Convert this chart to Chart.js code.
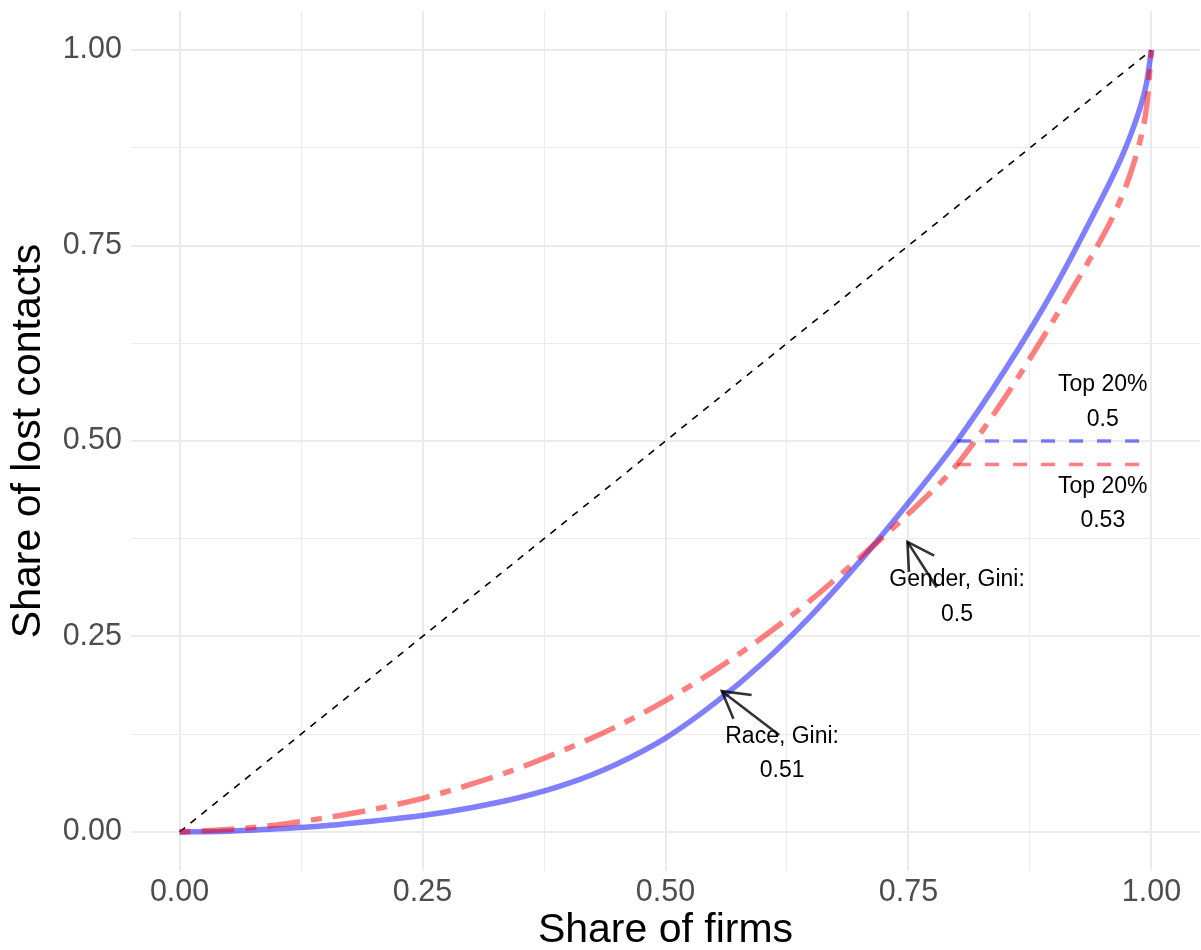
<!DOCTYPE html>
<html>
<head>
<meta charset="utf-8">
<title>Lorenz curves of lost contacts</title>
<script src="https://cdn.jsdelivr.net/npm/chart.js@4.4.1/dist/chart.umd.min.js"></script>
<style>
  html, body { margin: 0; padding: 0; background: #ffffff; }
  #wrap { width: 1201px; height: 950px; }
</style>
</head>
<body>
<div id="wrap"><canvas id="chart" width="1201" height="950"></canvas></div>
<script>
// Cumulative share of firms (x) and cumulative share of lost contacts (y)
const shareFirms  = [0, 0.05, 0.1, 0.15, 0.2, 0.25, 0.3, 0.35, 0.4, 0.45, 0.5, 0.55, 0.6, 0.65, 0.7, 0.75, 0.8, 0.85, 0.9, 0.95, 0.96, 0.97, 0.98, 0.99, 0.995, 1];
const raceShare   = [0, 0.001, 0.004, 0.008, 0.014, 0.021, 0.031, 0.044, 0.062, 0.087, 0.12, 0.164, 0.216, 0.277, 0.346, 0.421, 0.5, 0.592, 0.695, 0.813, 0.838, 0.865, 0.896, 0.933, 0.958, 1];
const genderShare = [0, 0.003, 0.009, 0.018, 0.029, 0.043, 0.061, 0.082, 0.107, 0.135, 0.168, 0.206, 0.249, 0.297, 0.351, 0.407, 0.47, 0.557, 0.656, 0.762, 0.786, 0.814, 0.848, 0.893, 0.927, 1];

// Line of perfect equality
const equalityX = [0, 1];
const equalityY = [0, 1];

// Share held by the bottom 80% of firms (the top 20% hold the rest)
const top20X      = [0.8, 0.99];
const top20Race   = [0.5, 0.5];
const top20Gender = [0.47, 0.47];

// Axis ticks: major ticks are labelled, minor ticks only carry a grid line
const tickValues = [0, 0.125, 0.25, 0.375, 0.5, 0.625, 0.75, 0.875, 1];
const majorTicks = [0, 0.25, 0.5, 0.75, 1];

// Text annotations (data coordinates, two lines each)
const noteText = [["Top 20%", "0.5"], ["Top 20%", "0.53"], ["Gender, Gini:", "0.5"], ["Race, Gini:", "0.51"]];
const noteX = [0.95, 0.95, 0.8, 0.62];
const noteY = [0.55, 0.42, 0.3, 0.1];

// Arrows pointing from the Gini labels to their curves
const arrowFromX = [0.779, 0.617];
const arrowFromY = [0.313, 0.124];
const arrowToX   = [0.749, 0.558];
const arrowToY   = [0.371, 0.180];

const FONT = "'Liberation Sans', Arial, Helvetica, sans-serif";
const BLUE = 'rgba(0, 0, 255, 0.5)';
const RED  = 'rgba(255, 0, 0, 0.5)';

const toPoints = (xs, ys) => xs.map((x, i) => ({ x: x, y: ys[i] }));
const isMajor = v => majorTicks.some(m => Math.abs(m - v) < 1e-9);

const annotations = {
  id: 'annotations',
  afterDatasetsDraw(chart) {
    const { ctx, scales: { x, y } } = chart;
    ctx.save();
    // labels
    ctx.fillStyle = '#000000';
    ctx.font = '23px ' + FONT;
    ctx.textAlign = 'center';
    ctx.textBaseline = 'middle';
    const lineGap = 34.5;
    noteText.forEach((lines, i) => {
      const px = x.getPixelForValue(noteX[i]);
      const py = y.getPixelForValue(noteY[i]);
      lines.forEach((t, k) => {
        ctx.fillText(t, px, py + (k - (lines.length - 1) / 2) * lineGap);
      });
    });
    // arrows with open heads
    ctx.strokeStyle = 'rgba(0, 0, 0, 0.8)';
    ctx.lineWidth = 2.6;
    ctx.lineCap = 'butt';
    ctx.lineJoin = 'miter';
    arrowFromX.forEach((_, i) => {
      const x0 = x.getPixelForValue(arrowFromX[i]);
      const y0 = y.getPixelForValue(arrowFromY[i]);
      const x1 = x.getPixelForValue(arrowToX[i]);
      const y1 = y.getPixelForValue(arrowToY[i]);
      ctx.beginPath();
      ctx.moveTo(x0, y0);
      ctx.lineTo(x1, y1);
      ctx.stroke();
      const ang = Math.atan2(y0 - y1, x0 - x1);
      const len = 30, spread = Math.PI / 6;
      ctx.beginPath();
      ctx.moveTo(x1 + len * Math.cos(ang - spread), y1 + len * Math.sin(ang - spread));
      ctx.lineTo(x1, y1);
      ctx.lineTo(x1 + len * Math.cos(ang + spread), y1 + len * Math.sin(ang + spread));
      ctx.stroke();
    });
    ctx.restore();
  }
};

const gridOptions = {
  color: '#EBEBEB',
  lineWidth: c => (c.tick && isMajor(c.tick.value) ? 2 : 1),
  drawTicks: false
};

const tickOptions = {
  autoSkip: false,
  maxRotation: 0,
  color: '#4D4D4D',
  font: { family: FONT, size: 30.5, lineHeight: 1.2 },
  callback: v => (isMajor(v) ? Number(v).toFixed(2) : '')
};

// Fixed axis sizes so the panel spans the same area every time
const fixAxis = (size) => (s) => {
  if (s.isHorizontal()) { s.height = size; } else { s.width = size; }
  s.paddingTop = 0; s.paddingBottom = 0; s.paddingLeft = 0; s.paddingRight = 0;
};

new Chart(document.getElementById('chart'), {
  type: 'scatter',
  data: {
    datasets: [
      { data: toPoints(top20X, top20Gender), borderColor: RED, borderWidth: 3.5, borderDash: [14, 14], order: 1 },
      { data: toPoints(top20X, top20Race), borderColor: BLUE, borderWidth: 3.5, borderDash: [14, 14], order: 2 },
      { data: toPoints(shareFirms, genderShare), borderColor: RED, borderWidth: 5.5, borderDash: [11, 11, 33, 11], cubicInterpolationMode: 'monotone', order: 3 },
      { data: toPoints(shareFirms, raceShare), borderColor: BLUE, borderWidth: 5.5, cubicInterpolationMode: 'monotone', order: 4 },
      { data: toPoints(equalityX, equalityY), borderColor: '#000000', borderWidth: 1.6, borderDash: [7, 7], order: 5 }
    ].map(d => Object.assign({ showLine: true, pointRadius: 0, pointHoverRadius: 0, fill: false, borderCapStyle: 'butt' }, d))
  },
  options: {
    responsive: false,
    animation: false,
    devicePixelRatio: 1,
    events: [],
    layout: { padding: { top: 11, right: 1, bottom: 0, left: 0 } },
    plugins: { legend: { display: false }, tooltip: { enabled: false } },
    scales: {
      x: {
        type: 'linear',
        min: -0.05,
        max: 1.05,
        border: { display: false },
        grid: gridOptions,
        ticks: Object.assign({ padding: 3.5 }, tickOptions),
        afterBuildTicks: s => { s.ticks = tickValues.map(v => ({ value: v })); },
        afterFit: fixAxis(79),
        title: {
          display: true,
          text: 'Share of firms',
          color: '#000000',
          font: { family: FONT, size: 41, lineHeight: 0.95 },
          padding: { top: 0, bottom: 0 }
        }
      },
      y: {
        type: 'linear',
        min: -0.05,
        max: 1.05,
        border: { display: false },
        grid: gridOptions,
        ticks: Object.assign({ padding: 9 }, tickOptions),
        afterBuildTicks: s => { s.ticks = tickValues.map(v => ({ value: v })); },
        afterFit: fixAxis(131),
        title: {
          display: true,
          text: 'Share of lost contacts',
          color: '#000000',
          font: { family: FONT, size: 41, lineHeight: 1 },
          padding: { top: 8, bottom: 0 }
        }
      }
    }
  },
  plugins: [annotations]
});
</script>
</body>
</html>
